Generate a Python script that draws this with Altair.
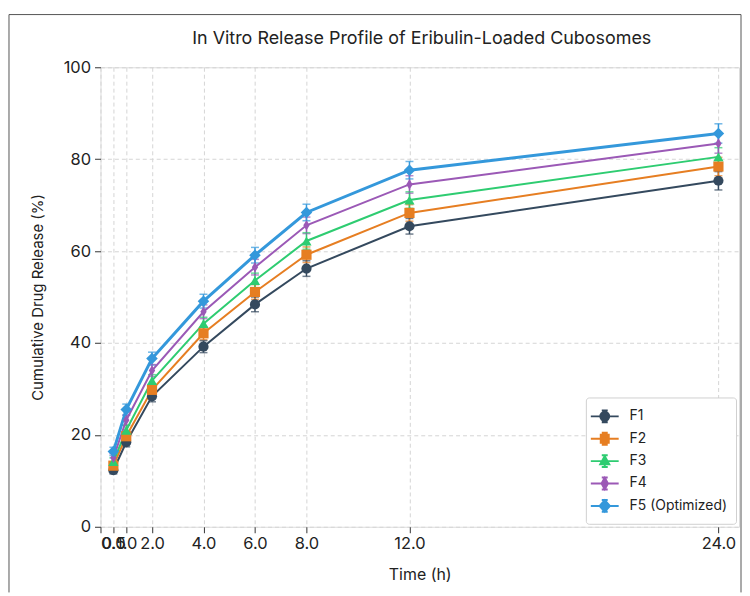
import altair as alt
import pandas as pd

# ---- data ----
title_text = "In Vitro Release Profile of Eribulin-Loaded Cubosomes"
time_h = [0.5, 1, 2, 4, 6, 8, 12, 24]
series_names = ["F1", "F2", "F3", "F4", "F5 (Optimized)"]
f1 = [12.3, 18.4, 28.4, 39.2, 48.4, 56.2, 65.4, 75.3]
f2 = [13.3, 19.7, 29.8, 42.1, 51.1, 59.2, 68.3, 78.4]
f3 = [14.2, 21.0, 31.8, 44.2, 53.6, 62.2, 71.1, 80.5]
f4 = [15.0, 23.2, 34.0, 46.8, 56.5, 65.6, 74.5, 83.4]
f5 = [16.4, 25.5, 36.6, 49.1, 59.1, 68.4, 77.6, 85.6]
err1 = [0.8, 1.0, 1.2, 1.3, 1.6, 1.7, 1.7, 2.0]
err2 = [0.8, 1.0, 1.2, 1.4, 1.6, 1.7, 1.8, 2.0]
err3 = [0.8, 1.1, 1.3, 1.4, 1.6, 1.8, 1.8, 2.0]
err4 = [0.9, 1.1, 1.3, 1.5, 1.7, 1.8, 1.9, 2.1]
err5 = [0.9, 1.2, 1.4, 1.5, 1.7, 1.8, 1.9, 2.1]
x_ticks = [0, 0.5, 1, 2, 4, 6, 8, 12, 24]
y_ticks = [0, 20, 40, 60, 80, 100]

colors = ["#34495e", "#e67e22", "#2ecc71", "#9b59b6", "#3498db"]
shapes = ["circle", "square", "triangle-up",
          "M0,-1L0.62,0L0,1L-0.62,0Z", "diamond"]

# legend symbols: line + error bar + marker (unit coordinates)
_line = "M-1.4,0H1.4"
_err = "M0,-0.6V0.6M-0.3,-0.6H0.3M-0.3,0.6H0.3"
legend_shapes = [
    _line + _err + "M-0.45,0A0.45,0.45,0,1,0,0.45,0A0.45,0.45,0,1,0,-0.45,0Z",
    _line + _err + "M-0.4,-0.4H0.4V0.4H-0.4Z",
    _line + _err + "M0,-0.5L0.45,0.32L-0.45,0.32Z",
    _line + _err + "M0,-0.58L0.32,0L0,0.58L-0.32,0Z",
    _line + _err + "M0,-0.58L0.52,0L0,0.58L-0.52,0Z",
]

rows = []
for name, vals, errs in zip(series_names, [f1, f2, f3, f4, f5],
                            [err1, err2, err3, err4, err5]):
    for t, v, e in zip(time_h, vals, errs):
        rows.append({"time": t, "release": v, "lo": v - e, "hi": v + e,
                     "series": name})
df = pd.DataFrame(rows)

W, H = 642, 462
FONT = "Inter"

color_scale = alt.Scale(domain=series_names, range=colors)
x_enc = alt.X("time:Q", scale=alt.Scale(domain=[0, 24.8], nice=False, zero=False),
              axis=alt.Axis(values=x_ticks, format=".1f", title="Time (h)",
                            grid=True, gridDash=[4, 3], gridColor="#d5d5d5",
                            domain=False, tickColor="#333", tickSize=6,
                            labelFontSize=16.5, titleFontSize=16, labelPadding=3,
                            titlePadding=15, labelColor="#222", titleColor="#222",
                            labelOverlap=False, labelFont=FONT, titleFont=FONT,
                            titleFontWeight="normal"))
y_enc = alt.Y("release:Q", scale=alt.Scale(domain=[0, 100], nice=False),
              axis=alt.Axis(values=y_ticks, title="Cumulative Drug Release (%)",
                            grid=True, gridDash=[4, 3], gridColor="#d5d5d5",
                            domain=False, tickColor="#333", tickSize=6,
                            labelFontSize=16.5, titleFontSize=15, labelPadding=4,
                            titlePadding=18, labelColor="#222", titleColor="#222",
                            labelFont=FONT, titleFont=FONT,
                            titleFontWeight="normal"))

base = alt.Chart(df)

err_rule = base.mark_rule(strokeWidth=1.5).encode(
    x=x_enc, y=alt.Y("lo:Q"), y2="hi:Q",
    color=alt.Color("series:N", scale=color_scale, legend=None))
cap_lo = base.mark_tick(orient="horizontal", size=8, thickness=1.5).encode(
    x=x_enc, y=alt.Y("lo:Q"),
    color=alt.Color("series:N", scale=color_scale, legend=None))
cap_hi = base.mark_tick(orient="horizontal", size=8, thickness=1.5).encode(
    x=x_enc, y=alt.Y("hi:Q"),
    color=alt.Color("series:N", scale=color_scale, legend=None))

lines = base.mark_line().encode(
    x=x_enc, y=y_enc,
    color=alt.Color("series:N", scale=color_scale, legend=None),
    strokeWidth=alt.condition("datum.series == 'F5 (Optimized)'",
                              alt.value(3), alt.value(2)),
    detail="series:N")

points = base.mark_point(filled=True, opacity=1).encode(
    x=x_enc, y=y_enc,
    color=alt.Color("series:N", scale=color_scale, legend=None),
    shape=alt.Shape("series:N", scale=alt.Scale(domain=series_names, range=shapes),
                    legend=None),
    size=alt.condition("datum.series == 'F5 (Optimized)'",
                       alt.value(135), alt.value(105)))

legend_layer = base.mark_point(filled=True, opacity=1).encode(
    x=x_enc, y=y_enc,
    color=alt.Color("series:N", scale=color_scale,
                    legend=alt.Legend(title=None, orient="bottom-right",
                                      offset=3, symbolSize=400,
                                      symbolStrokeWidth=2, labelFontSize=14,
                                      labelFont=FONT, labelColor="#222",
                                      labelOffset=14, padding=8,
                                      strokeColor="#d0d0d0", fillColor="white",
                                      cornerRadius=3, rowPadding=1.5)),
    stroke=alt.Stroke("series:N", scale=color_scale,
                      legend=alt.Legend(title=None, orient="bottom-right")),
    shape=alt.Shape("series:N",
                    scale=alt.Scale(domain=series_names, range=legend_shapes),
                    legend=alt.Legend(title=None, orient="bottom-right")),
).transform_filter("false")

frame_data = alt.Data(values=[{"a": 1}])
left_rule = alt.Chart(frame_data).mark_rule(color="#555", strokeWidth=1).encode(
    x=alt.value(-92), y=alt.value(-53), y2=alt.value(H + 66))
top_rule = alt.Chart(frame_data).mark_rule(color="#555", strokeWidth=1).encode(
    x=alt.value(-92), x2=alt.value(W + 2), y=alt.value(-53))
right_rule = alt.Chart(frame_data).mark_rule(color="#555", strokeWidth=1).encode(
    x=alt.value(W + 2), y=alt.value(-53), y2=alt.value(H + 66))
title_mark = alt.Chart(frame_data).mark_text(
    font=FONT, fontSize=18, color="#222", align="center", baseline="middle"
).encode(x=alt.value(W / 2 + 2), y=alt.value(-28), text=alt.value(title_text))

chart = alt.layer(
    left_rule, top_rule, right_rule, title_mark,
    err_rule, cap_lo, cap_hi, lines, points, legend_layer
).resolve_scale(
    color="independent", shape="independent", stroke="independent"
).properties(
    width=W, height=H,
    padding={"left": 0, "top": 4, "right": 0, "bottom": 0},
).configure_view(
    stroke="#222", strokeWidth=1.2
).configure(background="white")

chart.save("out.html", embed_options={"renderer": "svg", "actions": False})
